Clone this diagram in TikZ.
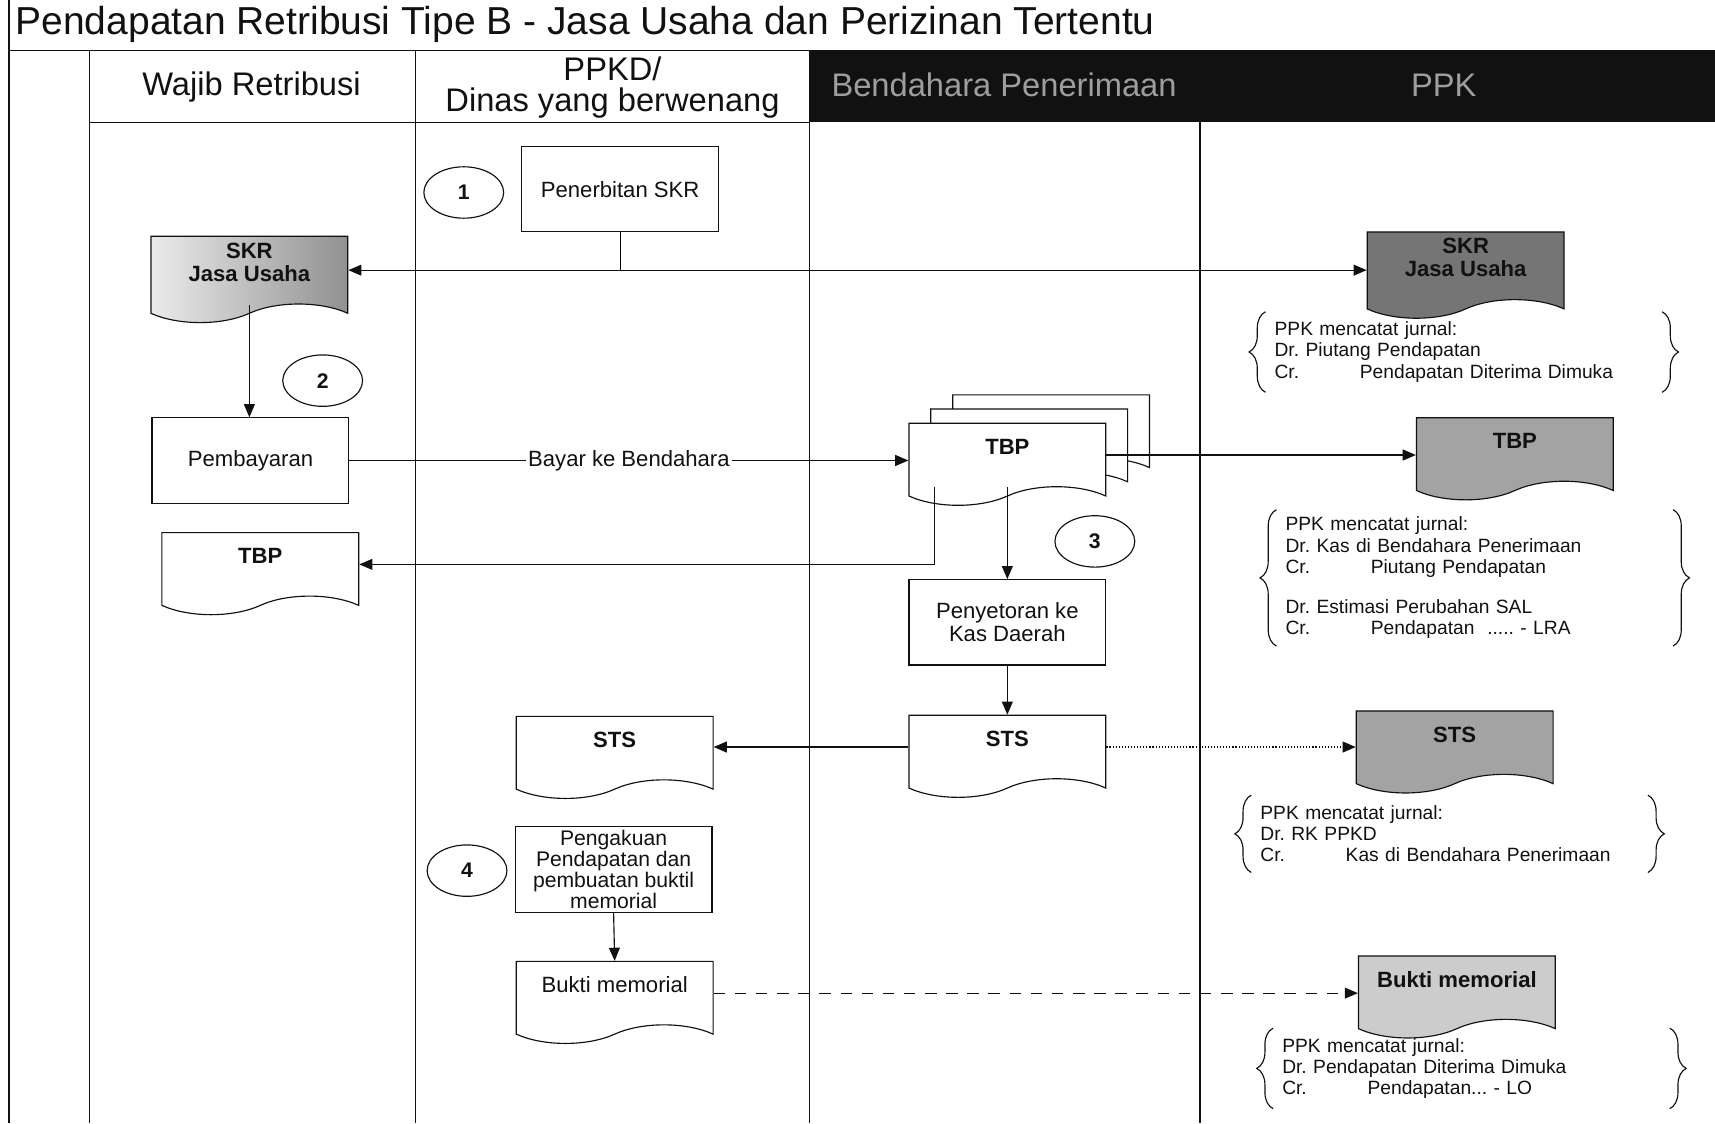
\documentclass[tikz,border=0pt]{standalone}
\usepackage{fontspec}
\setmainfont{Liberation Sans}
\usetikzlibrary{arrows.meta,positioning,calc,shapes.geometric,shapes.symbols,decorations.pathreplacing}
\definecolor{ink}{HTML}{111111}
\definecolor{hdtext}{gray}{0.62}
\definecolor{scanlt}{gray}{0.80}
\definecolor{scanmd}{gray}{0.64}
\definecolor{scandk}{gray}{0.46}
\newcommand{\crd}[1]{\makebox[1.56cm][l]{Cr.}#1}
\frenchspacing

\begin{document}
\begin{tikzpicture}[
  x=0.02cm, y=-0.02cm,
  every node/.style={text=ink, font=\fontsize{11.5}{12}\selectfont},
  lane/.style={line width=0.8pt, draw=ink},
  proc/.style={draw=ink, line width=0.6pt, fill=white, align=center,
               minimum width=3.6cm, minimum height=1.56cm},
  doc/.style={tape, tape bend top=none, tape bend bottom=in and out,
              tape bend height=0.34cm, draw=ink, line width=0.6pt, fill=#1,
              minimum width=3.6cm, minimum height=1.5cm, align=center,
              font=\fontsize{11.5}{12}\selectfont\bfseries, text depth=0.3cm},
  doc/.default=white,
  num/.style={ellipse, draw=ink, line width=0.6pt, inner sep=0pt,
              minimum width=1.46cm, minimum height=0.94cm,
              font=\fontsize{11}{13}\selectfont\bfseries},
  flow/.style={-{Triangle[length=0.24cm,width=0.2cm]}, line width=0.6pt, draw=ink},
  note/.style={anchor=north west, align=left, inner xsep=0.16cm,
               text width=6.92cm, minimum width=7.24cm,
               font=\fontsize{10}{11}\selectfont},
  brc/.style={decorate, decoration={brace, amplitude=0.3cm}, line width=0.6pt, draw=ink},
  head/.style={font=\fontsize{17}{16}\selectfont, align=center},
]
\useasboundingbox (0,0) rectangle (1568,1027);

% ---------------------------------------------------------------- lanes
\def\xo{8}      % outer frame
\def\xa{82}     % Wajib Retribusi
\def\xb{380}    % PPKD / Dinas
\def\xc{740}    % Bendahara Penerimaan
\def\xd{1097}   % PPK
\def\yt{46}     % header top
\def\yh{112}    % header bottom
\def\yb{1027}   % bottom

\fill[ink] (\xc,\yt) rectangle (1568,\yh);
\draw[lane] (\xo,0) -- (\xo,\yb);
\draw[lane] (\xo,\yt) -- (\xc,\yt);
\draw[lane] (\xa,\yh) -- (\xc,\yh);
\foreach \x in {\xa,\xb,\xc,\xd} \draw[lane] (\x,\yt) -- (\x,\yb);

\node[anchor=west, font=\fontsize{20.3}{24}\selectfont] (title) at (8,22)
  {Pendapatan Retribusi Tipe B - Jasa Usaha dan Perizinan Tertentu};

\node[head] (hWR)  at (230,80) {Wajib Retribusi};
\node[head] (hPD)  at (560,80) {PPKD/\\Dinas yang berwenang};
\node[head, text=hdtext] (hBP)  at (918,78) {Bendahara Penerimaan};
\node[head, text=hdtext] (hPPK) at (1320,78) {PPK};

% ---------------------------------------------------------------- step 1
\node[num]  (c1)   at (424,176) {1};
\node[proc] (terbit) at (567,173) {Penerbitan SKR};
\node[doc, left color=scanlt!40!white, right color=scandk!80] (SKRw) at (228,247)
  {SKR\\Jasa Usaha};
\node[doc=scandk] (SKRp) at (1340,243) {SKR\\Jasa Usaha};
\node[note] (n1) at (1157,285) [minimum height=1.46cm]
  {PPK mencatat jurnal:\\
   Dr. Piutang Pendapatan\\
   \crd{Pendapatan Diterima Dimuka}};

% ---------------------------------------------------------------- step 2
\node[num]  (c2)    at (295,348) {2};
\node[proc] (bayar) at (229,421) {Pembayaran};
\node[doc] (TBPc) at (961,390) {};
\node[doc] (TBPd) at (941,403) {};
\node[doc] (TBPb) at (921,416) {TBP};
\node[doc=scanmd] (TBPp) at (1385,411) {TBP};
\node[doc] (TBPw) at (238,516) {TBP};
\node[note] (n2) at (1167,466) [minimum height=2.48cm]
  {PPK mencatat jurnal:\\
   Dr. Kas di Bendahara Penerimaan\\
   \crd{Piutang Pendapatan}\\[10pt]
   Dr. Estimasi Perubahan SAL\\
   \crd{Pendapatan \ ..... - LRA}};

% ---------------------------------------------------------------- step 3
\node[num]  (c3)    at (1001,495) {3};
\node[proc] (setor) at (921,569) {Penyetoran ke\\Kas Daerah};
\node[doc] (STSb) at (921,683) {STS};
\node[doc] (STSw) at (562,684) {STS};
\node[doc=scanmd] (STSp) at (1330,679) {STS};
\node[note] (n3) at (1144,727) [minimum height=1.4cm]
  {PPK mencatat jurnal:\\
   Dr. RK PPKD\\
   \crd{Kas di Bendahara Penerimaan}};

% ---------------------------------------------------------------- step 4
\node[num]  (c4)   at (427,796) {4};
\node[proc, inner ysep=1pt, font=\fontsize{11}{11}\selectfont] (akui) at (561,795)
  {Pengakuan\\Pendapatan dan\\pembuatan buktil\\memorial};
\node[doc, font=\fontsize{11.5}{12}\selectfont] (BMw) at (562,908) {Bukti memorial};
\node[doc=scanlt] (BMp) at (1332,903) {Bukti memorial};
\node[note] (n4) at (1164,940) [minimum height=1.46cm]
  {PPK mencatat jurnal:\\
   Dr. Pendapatan Diterima Dimuka\\
   \crd{Pendapatan... - LO}};

% ---------------------------------------------------------------- braces
\foreach \n in {n1,n2,n3,n4}{
  \draw[brc] (\n.south west) -- (\n.north west);
  \draw[brc] (\n.north east) -- (\n.south east);
}

% ---------------------------------------------------------------- flow
\coordinate (jskr) at (terbit.south |- SKRw.east);
\draw[line width=0.6pt] (terbit.south) -- (jskr);
\draw[flow] (jskr) -- (SKRw.east);
\draw[flow] (jskr) -- (jskr -| SKRp.west);
\draw[flow] (SKRw.south) -- (SKRw.south |- bayar.north);
\draw[flow] (bayar.east) -- node[fill=white, inner sep=1pt] {Bayar ke Bendahara}
  (bayar.east -| TBPb.west);
\draw[flow] (TBPb.east) -- (TBPb.east -| TBPp.west);
\draw[flow] ($(TBPb.south west)+(24,0)$) |- (TBPw.east);
\draw[flow] (TBPb.south) -- (setor.north);
\draw[flow] (setor.south) -- (STSb.north);
\draw[flow] (STSb.west) -- (STSb.west -| STSw.east);
\draw[flow, densely dotted] (STSb.east) -- (STSb.east -| STSp.west);
\draw[flow] (akui.south) -- (BMw.north);
\draw[flow, dash pattern=on 6pt off 5pt] (BMw.east) -- (BMw.east -| BMp.west);

\end{tikzpicture}
\end{document}
